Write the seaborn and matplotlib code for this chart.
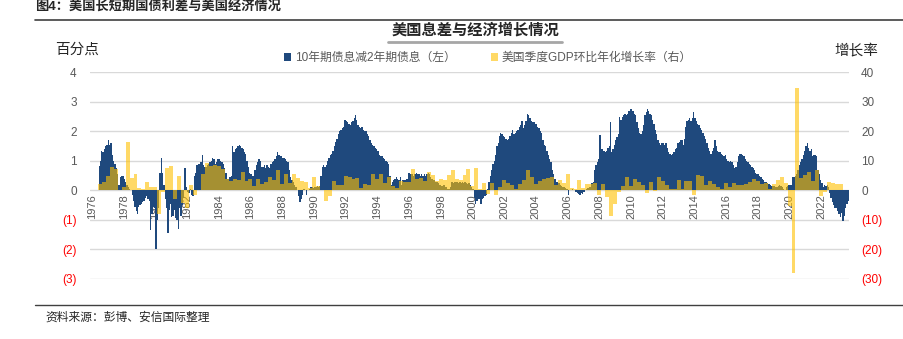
import numpy as np
import pandas as pd
import matplotlib
matplotlib.use("Agg")
import matplotlib.pyplot as plt
import seaborn as sns
from matplotlib.patches import Patch
from matplotlib.lines import Line2D

sns.set_theme(style="white")
plt.rcParams["font.family"] = ["Liberation Sans", "Noto Sans CJK SC", "DejaVu Sans"]
plt.rcParams["axes.unicode_minus"] = False

# ---------------- data ----------------
# 10Y minus 2Y Treasury yield spread (percentage points), monthly, starting June 1976
spread_start = (1976, 6)
spread_values = [
    0.83, 1.00, 1.35, 1.30, 1.40, 1.50, 1.55,                                   # 1976 Jun-Dec
    1.70, 1.55, 1.60, 1.20, 1.00, 0.90, 0.75, 0.55, 0.20, 0.45, 0.50, 0.50,     # 1977
    0.40, 0.30, 0.20, 0.10, 0.05, 0.02, -0.15, -0.35, -0.55, -0.70, -0.80, -0.55,  # 1978
    -0.50, -0.45, -0.40, -0.35, -0.25, -0.20, -0.30, -0.35, -1.35, -0.80, -0.55, -0.60,  # 1979
    -2.00, -1.00, -0.60, 0.60, 1.10, 0.60, 0.20, -0.30, -0.60, -1.45, -0.65, -0.45,  # 1980
    -0.90, -0.85, -0.65, -0.95, -1.00, -1.30, -0.60, -0.85, -0.50, -0.25, 0.75, 0.10,  # 1981
    -0.05, -0.10, 0.05, -0.15, -0.20, 0.50, 0.60, 0.85, 0.90, 0.90, 0.95, 1.20,  # 1982
    0.85, 0.80, 0.80, 0.85, 0.90, 0.95, 1.00, 1.10, 1.05, 0.90, 0.95, 1.05,     # 1983
    1.05, 1.00, 0.95, 0.90, 0.75, 0.60, 0.40, 0.40, 0.45, 0.50, 1.50, 1.30,     # 1984
    1.40, 1.45, 1.50, 1.55, 1.50, 1.45, 1.40, 1.30, 1.25, 1.00, 0.80, 0.60,     # 1985
    0.55, 0.50, 0.50, 0.70, 0.85, 0.95, 1.05, 1.00, 0.80, 0.80, 0.85, 0.75,     # 1986
    0.85, 0.80, 0.75, 0.90, 0.95, 1.00, 1.05, 1.15, 1.30, 1.20, 1.15, 1.15,     # 1987
    1.10, 1.10, 1.05, 1.00, 0.95, 0.70, 0.45, 0.35, 0.30, 0.20, 0.10, 0.00,     # 1988
    -0.20, -0.40, -0.30, -0.15, 0.05, 0.02, -0.15, 0.00, 0.05, 0.10, 0.10, 0.08,  # 1989
    0.10, 0.12, 0.15, 0.10, 0.15, 0.50, 0.80, 0.85, 0.80, 0.85, 1.00, 1.10,     # 1990
    1.20, 1.25, 1.35, 1.50, 1.65, 1.75, 1.90, 2.00, 2.05, 2.10, 2.15, 2.40,     # 1991
    2.35, 2.30, 2.25, 2.20, 2.30, 2.35, 2.45, 2.55, 2.40, 2.20, 2.15, 2.10,     # 1992
    2.15, 2.05, 2.00, 2.00, 1.90, 1.85, 1.70, 1.60, 1.55, 1.50, 1.45, 1.40,     # 1993
    1.35, 1.20, 1.15, 1.15, 1.10, 1.05, 1.00, 0.95, 0.90, 0.50, 0.20, 0.30,     # 1994
    0.35, 0.40, 0.45, 0.40, 0.35, 0.45, 0.20, 0.35, 0.35, 0.35, 0.40, 0.60,     # 1995
    0.60, 0.55, 0.55, 0.50, 0.55, 0.60, 0.55, 0.55, 0.50, 0.55, 0.50, 0.55,     # 1996
    0.50, 0.55, 0.60, 0.55, 0.45, 0.40, 0.35, 0.35, 0.30, 0.30, 0.25, 0.20,     # 1997
    0.15, 0.15, 0.20, 0.12, 0.10, 0.05, 0.05, 0.10, 0.30, 0.25, 0.28, 0.30,     # 1998
    0.28, 0.25, 0.27, 0.25, 0.30, 0.25, 0.28, 0.25, 0.22, 0.25, 0.20, 0.10,     # 1999
    0.05, -0.25, -0.45, -0.35, -0.30, -0.30, -0.45, -0.30, -0.25, -0.20, -0.15, 0.05,  # 2000
    0.30, 0.50, 0.70, 0.90, 1.00, 1.20, 1.50, 1.60, 1.85, 1.95, 1.90, 1.85,     # 2001
    1.80, 1.75, 1.70, 1.75, 1.85, 1.95, 2.05, 1.90, 1.95, 2.00, 2.05, 2.15,     # 2002
    2.20, 2.35, 2.10, 2.20, 2.35, 2.60, 2.55, 2.45, 2.35, 2.30, 2.30, 2.25,     # 2003
    2.25, 2.15, 2.10, 2.00, 1.95, 1.70, 1.55, 1.50, 1.35, 1.20, 1.05, 0.95,     # 2004
    0.70, 0.55, 0.40, 0.30, 0.30, 0.25, 0.20, 0.15, 0.12, 0.10, 0.08, 0.05,     # 2005
    -0.15, 0.00, 0.02, 0.05, 0.03, 0.00, -0.05, -0.10, -0.12, -0.15, -0.10, -0.12,  # 2006
    -0.05, 0.02, 0.05, 0.08, 0.10, 0.10, 0.25, 0.30, 0.70, 0.85, 0.95, 1.05,    # 2007
    1.88, 1.40, 1.40, 1.35, 1.30, 1.35, 1.45, 1.50, 2.30, 1.30, 1.40, 1.55,     # 2008
    1.70, 1.80, 1.90, 2.50, 2.40, 2.50, 2.55, 2.60, 2.55, 2.60, 2.70, 2.75,     # 2009
    2.75, 2.70, 2.60, 2.55, 2.30, 2.10, 1.95, 1.90, 2.00, 2.20, 2.55, 2.65,     # 2010
    2.75, 2.70, 2.60, 2.55, 2.40, 2.25, 2.05, 1.90, 1.70, 1.60, 1.55, 1.60,     # 2011
    1.60, 1.55, 1.60, 1.45, 1.30, 1.25, 1.20, 1.25, 1.30, 1.40, 1.45, 1.60,     # 2012
    1.65, 1.70, 1.70, 1.55, 1.75, 2.15, 2.35, 2.40, 2.45, 2.35, 2.45, 2.65,     # 2013
    2.45, 2.35, 2.25, 2.20, 2.10, 2.05, 1.95, 1.85, 1.75, 1.60, 1.45, 1.35,     # 2014
    1.25, 1.35, 1.45, 1.70, 1.50, 1.35, 1.30, 1.30, 1.25, 1.20, 1.15, 1.20,     # 2015
    1.05, 1.00, 0.95, 1.00, 0.95, 0.85, 0.75, 0.80, 0.95, 1.15, 1.25, 1.25,     # 2016
    1.20, 1.15, 1.05, 1.00, 0.95, 0.90, 0.85, 0.80, 0.75, 0.70, 0.60, 0.55,     # 2017
    0.55, 0.50, 0.45, 0.40, 0.35, 0.30, 0.28, 0.25, 0.22, 0.20, 0.15, 0.15,     # 2018
    0.15, 0.12, 0.10, 0.15, 0.20, 0.15, 0.10, 0.05, 0.02, 0.10, 0.15, 0.20,     # 2019
    0.20, 0.20, 0.45, 0.45, 0.50, 0.55, 0.70, 0.85, 0.95, 1.05, 1.20, 1.35,     # 2020
    1.50, 1.60, 1.45, 1.35, 1.40, 1.15, 1.20, 1.20, 1.15, 0.70, 0.55, 0.35,     # 2021
    0.25, 0.10, 0.20, 0.15, 0.20, 0.10, -0.10, -0.25, -0.40, -0.50, -0.60, -0.60,  # 2022
    -0.70, -0.80, -0.90, -0.75, -1.05, -0.85, -0.60, -0.45, -0.35,            # 2023 Jan-Sep
]

# US real GDP, quarter-on-quarter annualised growth (%), starting 1976 Q3
gdp_start = (1976, 3)
gdp_values = [
    2.2, 2.9,                  # 1976 Q3-Q4
    4.8, 8.0, 7.4, 0.0,        # 1977
    1.3, 16.4, 4.1, 5.5,       # 1978
    0.7, 0.4, 3.0, 1.0,        # 1979
    1.3, -8.0, -0.5, 7.7,      # 1980
    8.1, -2.9, 4.9, -4.3,      # 1981
    -6.1, 1.8, -1.5, 0.2,      # 1982
    5.4, 9.4, 8.2, 8.6,        # 1983
    8.1, 7.1, 3.9, 3.3,        # 1984
    3.9, 3.6, 6.4, 3.1,        # 1985
    3.9, 1.6, 3.9, 2.2,        # 1986
    3.0, 4.4, 3.5, 7.0,        # 1987
    2.1, 5.4, 2.4, 5.4,        # 1988
    4.1, 3.1, 3.0, 0.8,        # 1989
    4.4, 1.5, 0.3, -3.6,       # 1990
    -1.9, 3.2, 2.0, 1.9,       # 1991
    4.9, 4.4, 4.0, 4.2,        # 1992
    0.7, 2.3, 1.9, 5.5,        # 1993
    4.0, 5.5, 2.4, 4.6,        # 1994
    1.4, 0.9, 3.2, 2.8,        # 1995
    2.7, 7.2, 3.7, 4.3,        # 1996
    3.1, 6.2, 5.2, 3.1,        # 1997
    3.9, 3.6, 5.3, 7.0,        # 1998
    3.8, 3.4, 5.3, 7.1,        # 1999
    1.5, 7.5, 0.4, 2.4,        # 2000
    -1.3, 2.5, -1.6, 1.1,      # 2001
    3.5, 2.4, 1.8, 0.6,        # 2002
    2.2, 3.5, 7.0, 4.7,        # 2003
    2.2, 3.1, 3.8, 4.1,        # 2004
    4.5, 1.9, 3.6, 2.6,        # 2005
    5.4, 0.9, 0.6, 3.5,        # 2006
    0.9, 2.3, 2.2, 2.5,        # 2007
    -1.6, 2.3, -2.1, -8.5,     # 2008
    -4.6, -0.7, 1.5, 4.5,      # 2009
    1.5, 3.7, 3.0, 2.0,        # 2010
    -1.0, 2.9, -0.1, 4.7,      # 2011
    3.2, 1.7, 0.5, 0.5,        # 2012
    3.6, 0.5, 3.2, 3.2,        # 2013
    -1.4, 5.2, 4.9, 1.9,       # 2014
    3.3, 2.3, 1.3, 0.6,        # 2015
    2.4, 1.2, 2.4, 2.0,        # 2016
    1.9, 2.2, 2.9, 3.9,        # 2017
    3.3, 2.1, 2.5, 0.6,        # 2018
    2.2, 3.4, 4.6, 2.6,        # 2019
    -5.3, -28.0, 34.8, 4.2,    # 2020
    5.2, 6.2, 3.3, 7.0,        # 2021
    -2.0, -0.6, 2.7, 2.6,      # 2022
    2.2, 2.1,                  # 2023 Q1-Q2
]

year_ticks = list(range(1976, 2023, 2))
left_ticks = [-3, -2, -1, 0, 1, 2, 3, 4]
left_labels = ["(3)", "(2)", "(1)", "0", "1", "2", "3", "4"]
right_ticks = [-30, -20, -10, 0, 10, 20, 30, 40]
right_labels = ["(30)", "(20)", "(10)", "0", "10", "20", "30", "40"]

series_names = ["10年期债息减2年期债息（左）", "美国季度GDP环比年化增长率（右）"]

# ---------------- tables ----------------
m0 = spread_start[0] * 12 + spread_start[1] - 1
spread_df = pd.DataFrame({
    "date": np.round([(m0 + i + 0.5) / 12 for i in range(len(spread_values))], 5),
    "spread": spread_values,
})
q0 = gdp_start[0] * 4 + gdp_start[1] - 1
gdp_df = pd.DataFrame({
    "date": np.round([(q0 + i) / 4 for i in range(len(gdp_values))], 5),
    "gdp": gdp_values,
})

BLUE = "#1F497D"
GOLD = "#FFC000"
GOLD_ALPHA = 0.6
GRAY = "#595959"
RED = "#FF0000"

W, H = 904, 339
fig = plt.figure(figsize=(W / 100, H / 100), dpi=100)
ax = fig.add_axes([90 / W, 1 - 279 / H, (849.3 - 90) / W, (279 - 72.3) / H])

sns.barplot(data=spread_df, x="date", y="spread", native_scale=True, orient="x",
            width=1.0, color=BLUE, saturation=1, errorbar=None, ax=ax,
            linewidth=0, antialiased=False)

ax2 = ax.twinx()
sns.barplot(data=gdp_df, x="date", y="gdp", native_scale=True, orient="x",
            width=1.0, color=GOLD, saturation=1, errorbar=None, ax=ax2,
            linewidth=0, alpha=GOLD_ALPHA, antialiased=False)

# axes ranges
for a in (ax, ax2):
    a.set_xlim(1975.88, 2023.77)
    a.set_xlabel("")
    a.set_ylabel("")
    for s in a.spines.values():
        s.set_visible(False)
ax.set_ylim(-3, 4)
ax2.set_ylim(-30, 40)

# grid
ax.set_yticks(left_ticks)
ax.yaxis.grid(True, color="#D9D9D9", linewidth=1.0)
ax.xaxis.grid(False)
ax.set_axisbelow(True)
ax2.grid(False)

# left tick labels
ax.set_yticklabels(left_labels)
ax.tick_params(axis="y", length=0, pad=9.5, labelsize=8.5)
for t, v in zip(ax.get_yticklabels(), left_ticks):
    t.set_color(RED if v < 0 else GRAY)

# right tick labels
ax2.set_yticks(right_ticks)
ax2.set_yticklabels(right_labels)
ax2.tick_params(axis="y", length=0, pad=8.5, labelsize=8.5)
for t, v in zip(ax2.get_yticklabels(), right_ticks):
    t.set_color(RED if v < 0 else GRAY)

# x axis labels at zero line
ax.spines["bottom"].set_position(("data", 0))
ax.set_xticks(year_ticks)
ax.set_xticklabels([str(y) for y in year_ticks], rotation=90)
ax.tick_params(axis="x", length=0, pad=3, labelsize=8, labelcolor=GRAY)

# titles / texts
fig.text(35 / W, 1 - 1 / H, "图4：美国长短期国债利差与美国经济情况", ha="left", va="top",
         fontsize=9.5, fontweight="bold", color="#262626")
fig.add_artist(Line2D([35 / W, 1.0], [1 - 20 / H] * 2, color="#404040", lw=1.2))
fig.text(475 / W, 1 - 30 / H, "美国息差与经济增长情况", ha="center", va="center",
         fontsize=11, fontweight="bold", color="#262626")
fig.add_artist(Line2D([388 / W, 562 / W], [1 - 41.5 / H] * 2, color="#A6A6A6", lw=2))
fig.text(77 / W, 1 - 50 / H, "百分点", ha="center", va="center", fontsize=10.5, color="#262626")
fig.text(856 / W, 1 - 50 / H, "增长率", ha="center", va="center", fontsize=10.5, color="#262626")

handles = [Patch(facecolor=BLUE, edgecolor="none"),
           Patch(facecolor=GOLD, alpha=GOLD_ALPHA, edgecolor="none")]
fig.legend(handles, series_names, ncol=2, loc="center",
           bbox_to_anchor=(488 / W, 1 - 58 / H), frameon=False, fontsize=8.5,
           handlelength=0.6, handleheight=0.6, handletextpad=0.3,
           columnspacing=3.0, labelcolor=GRAY)

fig.add_artist(Line2D([35 / W, 1.0], [1 - 305 / H] * 2, color="#404040", lw=1.0))
fig.text(45 / W, 1 - 318 / H, "资料来源：彭博、安信国际整理", ha="left", va="center",
         fontsize=8.5, color="#262626")

fig.savefig("out.png", dpi=100)
